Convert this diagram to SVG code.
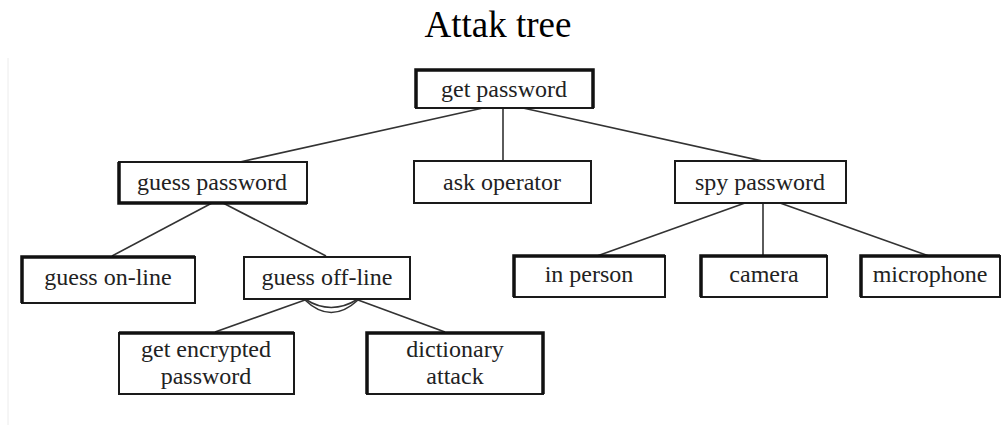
<svg xmlns="http://www.w3.org/2000/svg" width="1003" height="425" viewBox="0 0 1003 425">
<style>
.bg{fill:#fff}
.box{fill:#fff;stroke:#1a1a1a;stroke-width:2}
.thick{stroke:#111;stroke-width:3.5;fill:none}
.lbl{font-family:"Liberation Serif","Times New Roman",serif;font-size:24px;fill:#222;text-anchor:middle}
.title{font-family:"Liberation Serif","Times New Roman",serif;font-size:37px;fill:#000;text-anchor:middle}
.conn line,.conn path{stroke:#333;stroke-width:1.6;fill:none}
</style>
<rect class="bg" x="0" y="0" width="1003" height="425"/>
<line x1="8" y1="58" x2="8" y2="425" stroke="#ececec" stroke-width="1"/>
<text class="title" x="498" y="37">Attak tree</text>

<g id="connectors" class="conn">
  <line x1="483" y1="108" x2="240" y2="162"/>
  <line x1="503" y1="108" x2="503" y2="161"/>
  <line x1="523" y1="108" x2="767" y2="162"/>
  <line x1="212" y1="203" x2="112" y2="256"/>
  <line x1="223" y1="203" x2="326" y2="256"/>
  <line x1="745" y1="203" x2="597" y2="256"/>
  <line x1="763" y1="203" x2="763" y2="256"/>
  <line x1="780" y1="203" x2="929" y2="256"/>
  <line x1="305" y1="300" x2="215" y2="332"/>
  <line x1="358" y1="300" x2="445" y2="332"/>
  <path d="M305,299 Q331,316 358,299"/>
  <path d="M305,300 Q331,325 358,300"/>
</g>

<g id="n-get-password">
  <rect class="box" x="416" y="70" width="177" height="38"/>
  <path class="thick" d="M416,108 V70 H593 V108"/>
  <text class="lbl" x="504" y="97">get password</text>
</g>
<g id="n-guess-password">
  <rect class="box" x="119" y="162" width="188" height="41"/>
  <path class="thick" d="M119,162 V203 H307"/>
  <text class="lbl" x="212" y="190">guess password</text>
</g>
<g id="n-ask-operator">
  <rect class="box" x="414" y="161" width="177" height="42"/>
  <text class="lbl" x="502" y="190">ask operator</text>
</g>
<g id="n-spy-password">
  <rect class="box" x="675" y="161" width="171" height="42"/>
  <text class="lbl" x="760" y="190">spy password</text>
</g>
<g id="n-guess-online">
  <rect class="box" x="22" y="257" width="173" height="46"/>
  <path class="thick" d="M22,303 V257 H195"/>
  <text class="lbl" x="108" y="285">guess on-line</text>
</g>
<g id="n-guess-offline">
  <rect class="box" x="244" y="257" width="166" height="42"/>
  <text class="lbl" x="327" y="285">guess off-line</text>
</g>
<g id="n-in-person">
  <rect class="box" x="514" y="256" width="151" height="41"/>
  <path class="thick" d="M514,297 V256 H665"/>
  <text class="lbl" x="589" y="282">in person</text>
</g>
<g id="n-camera">
  <rect class="box" x="701" y="256" width="126" height="41"/>
  <path class="thick" d="M701,297 V256 H827"/>
  <text class="lbl" x="764" y="282">camera</text>
</g>
<g id="n-microphone">
  <rect class="box" x="861" y="256" width="139" height="41"/>
  <path class="thick" d="M861,297 V256 H1000"/>
  <text class="lbl" x="930" y="282">microphone</text>
</g>
<g id="n-get-encrypted">
  <rect class="box" x="119" y="333" width="175" height="61"/>
  <path class="thick" d="M119,333 H294"/>
  <text class="lbl" x="206" y="357">get encrypted</text>
  <text class="lbl" x="206" y="384">password</text>
</g>
<g id="n-dictionary">
  <rect class="box" x="367" y="333" width="176" height="61"/>
  <path class="thick" d="M367,394 V333 H543 V394"/>
  <text class="lbl" x="455" y="357">dictionary</text>
  <text class="lbl" x="455" y="384">attack</text>
</g>
</svg>
